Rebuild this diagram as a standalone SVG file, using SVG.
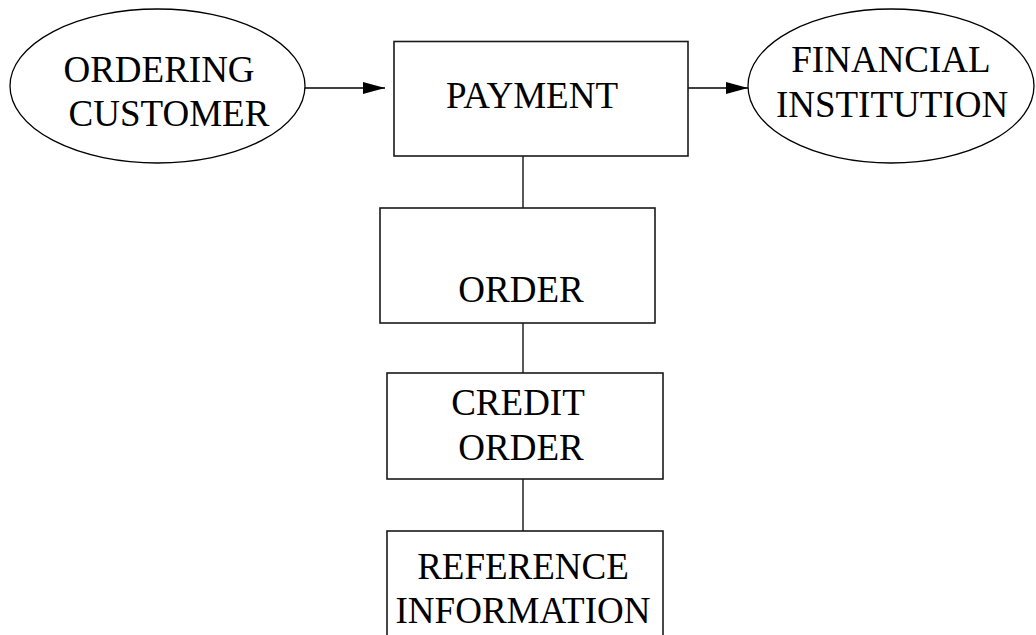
<svg xmlns="http://www.w3.org/2000/svg" width="1036" height="635" viewBox="0 0 1036 635">
  <style>
    .shape { fill: #ffffff; stroke: #1a1a1a; stroke-width: 1.6; }
    .oval { fill: #ffffff; stroke: #000000; stroke-width: 1.3; }
    .label { font-family: "Liberation Serif", "Times New Roman", serif; font-size: 37px; fill: #000000; text-anchor: middle; }
    .link { stroke: #000000; stroke-width: 1.3; fill: none; }
  </style>
  <defs>
    <marker id="head" viewBox="0 0 22 12" refX="22" refY="6" markerWidth="22" markerHeight="12" markerUnits="userSpaceOnUse" orient="auto">
      <path d="M0,0 L22,6 L0,12 Z" fill="#000000"/>
    </marker>
  </defs>
  <rect width="1036" height="635" fill="#ffffff"/>

  <g id="connectors">
    <line class="link" x1="305" y1="88" x2="385" y2="88" marker-end="url(#head)"/>
    <line class="link" x1="688" y1="88" x2="748" y2="88" marker-end="url(#head)"/>
    <line class="link" x1="523" y1="156" x2="523" y2="208"/>
    <line class="link" x1="523" y1="323" x2="523" y2="373"/>
    <line class="link" x1="523" y1="479" x2="523" y2="531"/>
  </g>

  <g id="ordering-customer">
    <ellipse class="oval" cx="157.5" cy="86" rx="147.5" ry="77"/>
    <text class="label" x="159" y="82">ORDERING</text>
    <text class="label" x="169" y="126">CUSTOMER</text>
  </g>

  <g id="payment">
    <rect class="shape" x="394" y="41.5" width="294" height="114.5"/>
    <text class="label" x="532" y="108">PAYMENT</text>
  </g>

  <g id="financial-institution">
    <ellipse class="oval" cx="891" cy="86" rx="143" ry="77"/>
    <text class="label" x="891" y="72">FINANCIAL</text>
    <text class="label" x="892" y="117">INSTITUTION</text>
  </g>

  <g id="order">
    <rect class="shape" x="380" y="208" width="275" height="115"/>
    <text class="label" x="521" y="302">ORDER</text>
  </g>

  <g id="credit-order">
    <rect class="shape" x="387" y="373" width="276" height="106"/>
    <text class="label" x="518" y="415">CREDIT</text>
    <text class="label" x="521" y="460">ORDER</text>
  </g>

  <g id="reference-information">
    <rect class="shape" x="387" y="531" width="276" height="120"/>
    <text class="label" x="523" y="579">REFERENCE</text>
    <text class="label" x="523" y="623">INFORMATION</text>
  </g>
</svg>
